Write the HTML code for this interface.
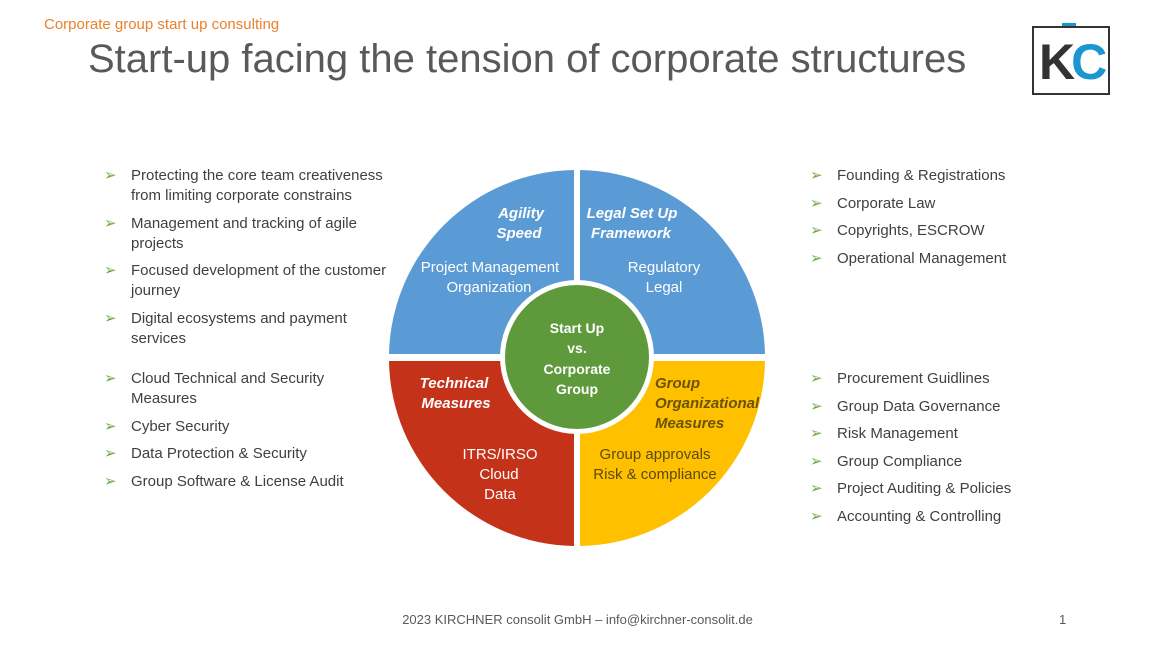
<!DOCTYPE html>
<html><head><meta charset="utf-8"><style>
body{margin:0;width:1155px;height:650px;background:#fff;position:relative;overflow:hidden;font-family:"Liberation Sans",sans-serif;}
.a{position:absolute;}
.sub{left:44px;top:16px;font-size:15px;color:#e8822a;}
.title{left:88px;top:37px;font-size:40px;color:#595959;white-space:nowrap;}
ul{position:absolute;margin:0;padding:0;list-style:none;font-size:15px;color:#404040;line-height:20px;}
li{position:relative;padding-left:27px;margin-bottom:7.5px;}
li:before{content:"➢";position:absolute;left:0;top:0;color:#70ad47;font-size:15px;}
.foot{left:0;width:1155px;text-align:center;top:612px;font-size:13px;color:#595959;}
</style></head><body>
<div class="a sub">Corporate group start up consulting</div>
<div class="a title">Start-up facing the tension of corporate structures</div>
<div class="a" style="left:1032px;top:26px;width:78px;height:69px;border:2px solid #333;box-sizing:border-box;overflow:hidden;">
<div style="position:absolute;left:5px;top:6px;font:bold 50px/56px 'Liberation Sans',sans-serif;letter-spacing:-4px;"><span style="color:#333">K</span><span style="color:#1a96d0">C</span></div></div>
<div class="a" style="left:1062px;top:23px;width:14px;height:3px;background:#1a96d0"></div>

<ul style="left:104px;top:166px;width:300px;">
<li>Protecting the core team creativeness from limiting corporate constrains</li>
<li>Management and tracking of agile projects</li>
<li>Focused development of the customer journey</li>
<li>Digital ecosystems and payment services</li>
</ul>
<ul style="left:104px;top:369px;width:260px;">
<li>Cloud Technical and Security Measures</li>
<li>Cyber Security</li>
<li>Data Protection &amp; Security</li>
<li>Group Software &amp; License Audit</li>
</ul>
<ul style="left:810px;top:166px;width:300px;">
<li>Founding &amp; Registrations</li>
<li>Corporate Law</li>
<li>Copyrights, ESCROW</li>
<li>Operational Management</li>
</ul>
<ul style="left:810px;top:369px;width:300px;">
<li>Procurement Guidlines</li>
<li>Group Data Governance</li>
<li>Risk Management</li>
<li>Group Compliance</li>
<li>Project Auditing &amp; Policies</li>
<li>Accounting &amp; Controlling</li>
</ul>

<svg class="a" style="left:0;top:0" width="1155" height="650" font-family="Liberation Sans, sans-serif">
<path d="M574,354 L389,354 A188,188 0 0 1 574,170 Z" fill="#5b9bd5"/>
<path d="M580,354 L580,170 A188,188 0 0 1 765,354 Z" fill="#5b9bd5"/>
<path d="M574,361 L574,546 A188,188 0 0 1 389,361 Z" fill="#c5321a"/>
<path d="M580,361 L765,361 A188,188 0 0 1 580,546 Z" fill="#ffc000"/>
<circle cx="577" cy="357" r="77" fill="#fff"/>
<circle cx="577" cy="357" r="72" fill="#5e9a3c"/>
<g fill="#fff" font-size="15" text-anchor="middle">
<text x="521" y="218" font-weight="bold" font-style="italic">Agility</text>
<text x="519" y="238" font-weight="bold" font-style="italic">Speed</text>
<text x="490" y="272">Project Management</text>
<text x="489" y="292">Organization</text>
<text x="632" y="218" font-weight="bold" font-style="italic">Legal Set Up</text>
<text x="631" y="238" font-weight="bold" font-style="italic">Framework</text>
<text x="664" y="272">Regulatory</text>
<text x="664" y="292">Legal</text>
<text x="454" y="388" font-weight="bold" font-style="italic">Technical</text>
<text x="456" y="408" font-weight="bold" font-style="italic">Measures</text>
<text x="500" y="459">ITRS/IRSO</text>
<text x="499" y="479">Cloud</text>
<text x="500" y="499">Data</text>
<text x="577" y="333" font-weight="bold" font-size="14">Start Up</text>
<text x="577" y="353" font-weight="bold" font-size="14">vs.</text>
<text x="577" y="374" font-weight="bold" font-size="14">Corporate</text>
<text x="577" y="394" font-weight="bold" font-size="14">Group</text>
</g>
<g fill="#6b5200" font-size="15">
<text x="655" y="388" font-weight="bold" font-style="italic">Group</text>
<text x="655" y="408" font-weight="bold" font-style="italic">Organizational</text>
<text x="655" y="428" font-weight="bold" font-style="italic">Measures</text>
</g>
<g fill="#5a4a10" font-size="15" text-anchor="middle">
<text x="655" y="459">Group approvals</text>
<text x="655" y="479">Risk &amp; compliance</text>
</g>
</svg>
<div class="a foot">2023 KIRCHNER consolit GmbH – info@kirchner-consolit.de</div>
<div class="a" style="left:1059px;top:612px;font-size:13px;color:#595959">1</div>
</body></html>
